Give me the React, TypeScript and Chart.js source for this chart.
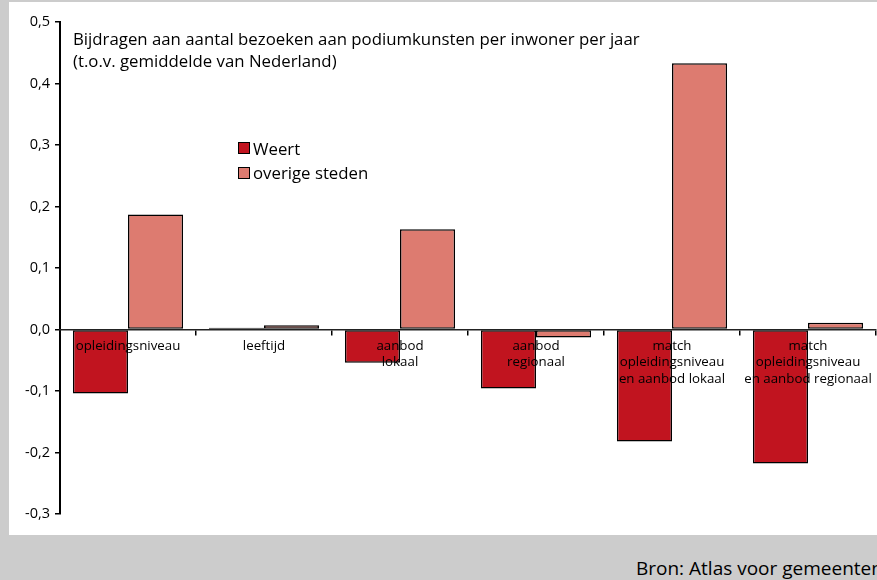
import React, { useEffect, useRef } from "react";
import { Chart, registerables } from "chart.js";

Chart.register(...registerables);

const categories: (string | string[])[] = [
  "opleidingsniveau",
  "leeftijd",
  ["aanbod", "lokaal"],
  ["aanbod", "regionaal"],
  ["match", "opleidingsniveau", "en aanbod lokaal"],
  ["match", "opleidingsniveau", "en aanbod regionaal"],
];
const weert = [-0.104, 0.003, -0.054, -0.096, -0.182, -0.218];
const overigeSteden = [0.187, 0.007, 0.163, -0.013, 0.433, 0.011];
const seriesNames = ["Weert", "overige steden"];
const yMin = -0.3;
const yMax = 0.5;
const yStep = 0.1;
const titleLines = [
  "Bijdragen aan aantal bezoeken aan podiumkunsten per inwoner per jaar",
  "(t.o.v. gemiddelde van Nederland)",
];
const sourceText = "Bron: Atlas voor gemeenten";

const COLORS = ["#C1141F", "#DD7B70"];
const FONT = "'Open Sans', 'Noto Sans', sans-serif";

export default function App() {
  const ref = useRef<HTMLCanvasElement>(null);
  useEffect(() => {
    if (!ref.current) return;
    const chart = new Chart(ref.current, {
      type: "bar",
      data: {
        labels: categories,
        datasets: [
          {
            label: seriesNames[0],
            data: weert,
            backgroundColor: COLORS[0],
            borderColor: "#000",
            borderWidth: 1.5,
            borderSkipped: false,
          },
          {
            label: seriesNames[1],
            data: overigeSteden,
            backgroundColor: COLORS[1],
            borderColor: "#000",
            borderWidth: 1.5,
            borderSkipped: false,
          },
        ],
      },
      options: {
        responsive: false,
        animation: false,
        layout: { padding: { left: 0, right: 1, top: 22, bottom: 21 } },
        datasets: { bar: { categoryPercentage: 0.81, barPercentage: 1 } },
        plugins: { legend: { display: false }, tooltip: { enabled: false }, title: { display: false } },
        scales: {
          x: {
            position: { y: 0 } as any,
            offset: true,
            afterFit: (s: any) => {
              s.height = 0;
            },
            grid: {
              offset: true,
              drawOnChartArea: false,
              drawTicks: true,
              tickLength: 5,
              color: "#000",
              lineWidth: 1.5,
              z: 1,
            },
            border: { display: true, color: "#222", width: 1.5, z: 1 },
            ticks: {
              z: 2,
              color: "#000",
              padding: 3,
              maxRotation: 0,
              autoSkip: false,
              font: { family: FONT, size: 13.3, lineHeight: 1.24 },
            },
          },
          y: {
            min: yMin,
            max: yMax,
            afterFit: (s: any) => {
              s.width = 60;
            },
            grid: {
              drawOnChartArea: false,
              drawTicks: true,
              tickLength: 5,
              color: "#000",
              lineWidth: 1.5,
            },
            border: { display: true, color: "#000", width: 2 },
            ticks: {
              stepSize: yStep,
              color: "#000",
              padding: 5,
              font: { family: FONT, size: 14.5 },
              callback: (v: any) => Number(v).toFixed(1).replace(".", ","),
            },
          },
        },
      },
    });
    return () => chart.destroy();
  }, []);

  return (
    <div
      style={{
        position: "absolute",
        left: 0,
        top: 0,
        width: 877,
        height: 580,
        background: "#cccccc",
        overflow: "hidden",
        fontFamily: FONT,
      }}
    >
      <div style={{ position: "absolute", left: 9, top: 2, width: 868, height: 533, background: "#fff" }} />
      <canvas ref={ref} width={877} height={535} style={{ position: "absolute", left: 0, top: 0 }} />
      <div
        style={{
          position: "absolute",
          left: 73,
          top: 28,
          fontSize: 16.8,
          lineHeight: "22px",
          color: "#000",
          whiteSpace: "nowrap",
        }}
      >
        {titleLines.map((t, i) => (
          <div key={i}>{t}</div>
        ))}
      </div>
      <div style={{ position: "absolute", left: 238, top: 136, fontSize: 16.8, color: "#000" }}>
        {seriesNames.map((n, i) => (
          <div key={i} style={{ display: "flex", alignItems: "center", height: 24.5 }}>
            <span
              style={{
                display: "inline-block",
                width: 10,
                height: 10,
                background: COLORS[i],
                border: "1.5px solid #000",
                marginRight: 3,
              }}
            />
            <span>{n}</span>
          </div>
        ))}
      </div>
      <div
        style={{
          position: "absolute",
          left: 636,
          top: 555,
          fontSize: 19,
          color: "#000",
          whiteSpace: "nowrap",
        }}
      >
        {sourceText}
      </div>
    </div>
  );
}
